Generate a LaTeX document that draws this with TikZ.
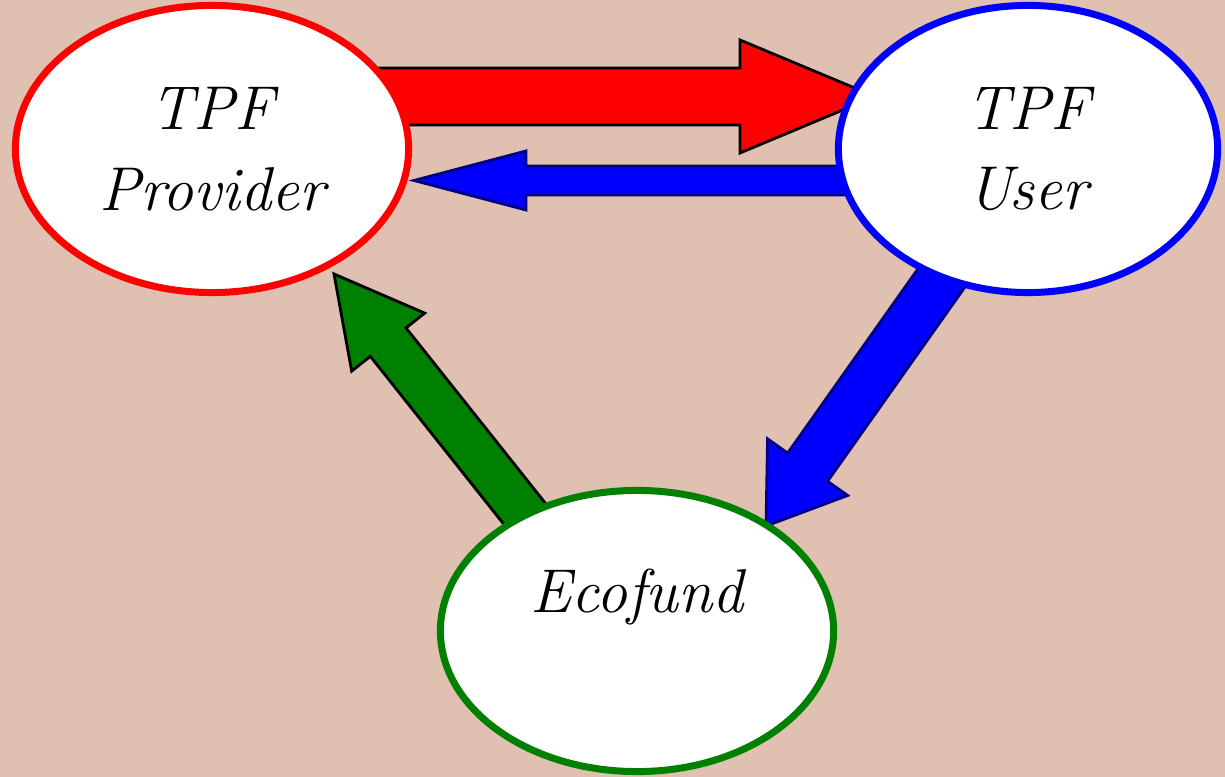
\documentclass[tikz,border=0pt]{standalone}
\usetikzlibrary{shapes.geometric,calc}
\definecolor{bgtan}{RGB}{224,192,177}
\definecolor{navyline}{RGB}{0,0,128}
\definecolor{ecogreen}{RGB}{0,128,0}
\pgfdeclarelayer{back}
\pgfdeclarelayer{arrows}
\pgfsetlayers{back,arrows,main}
% block arrow: style, tail, tip, shaft half width, head half width, head length
\newcommand{\blockarrow}[6]{%
  \coordinate (neck) at ($(#3)!#6!(#2)$);
  \filldraw[#1] ($(#2)!#4!90:(#3)$) -- ($(neck)!#4!90:(#3)$) -- ($(neck)!#5!90:(#3)$) -- (#3)
    -- ($(neck)!#5!-90:(#3)$) -- ($(neck)!#4!-90:(#3)$) -- ($(#2)!#4!-90:(#3)$) -- cycle;
}
\begin{document}
\begin{tikzpicture}[x=0.01cm, y=-0.01cm,
  bubble/.style={ellipse, fill=white, line width=0.07cm, inner sep=0pt, align=center,
    font=\fontsize{17.6}{23}\selectfont\itshape},
  arrow_style/.style={line width=0.8pt, line join=miter}]
  \useasboundingbox (0,0) rectangle (1225,777);
  \begin{pgfonlayer}{back}
    \fill[bgtan] (0,0) rectangle (1225,777);
  \end{pgfonlayer}

  \node[bubble, draw=red, minimum width=3.93cm, minimum height=2.87cm] (provider) at (212,149) {TPF\\Provider};
  \node[bubble, draw=blue, minimum width=3.79cm, minimum height=2.87cm] (user) at (1028,149) {TPF\\User};
  \node[bubble, draw=ecogreen, minimum width=3.93cm, minimum height=2.81cm] (ecofund) at (637,631) {Ecofund\\\mbox{}};

  \coordinate (p2u_tail) at ($(provider.center)+(148,-52.5)$);
  \coordinate (p2u_tip) at ($(user.center)+(-153,-52.5)$);
  \coordinate (u2p_tail) at ($(user.center)+(-178,31.5)$);
  \coordinate (u2p_tip) at ($(provider.center)+(202,31.5)$);
  \coordinate (u2e_tail) at ($(user.center)+(-47,73)$);
  \coordinate (u2e_tip) at ($(ecofund.center)+(129,-105)$);
  \coordinate (e2p_tail) at ($(ecofund.center)+(-82,-79)$);
  \coordinate (e2p_tip) at ($(provider.center)+(122,125)$);

  \begin{pgfonlayer}{arrows}
    \blockarrow{fill=red, draw=black, arrow_style}{p2u_tail}{p2u_tip}{0.285cm}{0.565cm}{1.35cm}
    \blockarrow{fill=blue, draw=navyline, arrow_style}{u2p_tail}{u2p_tip}{0.145cm}{0.295cm}{1.12cm}
    \blockarrow{fill=blue, draw=navyline, arrow_style}{u2e_tail}{u2e_tip}{0.244cm}{0.49cm}{0.72cm}
    \blockarrow{fill=ecogreen, draw=black, arrow_style}{e2p_tail}{e2p_tip}{0.228cm}{0.466cm}{0.87cm}
  \end{pgfonlayer}
\end{tikzpicture}
\end{document}
